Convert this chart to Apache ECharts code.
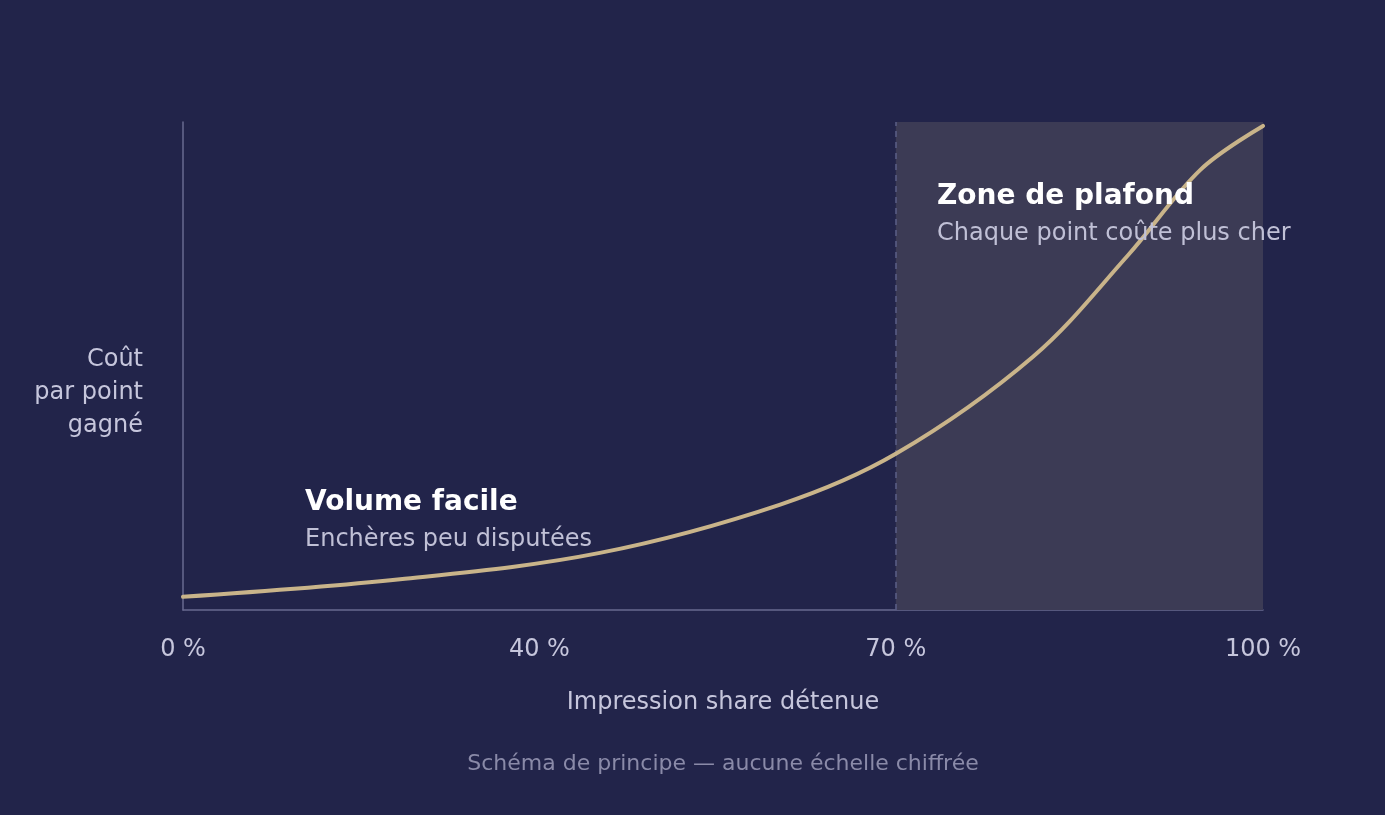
<!DOCTYPE html>
<html>
<head>
<meta charset="utf-8">
<script src="https://cdn.jsdelivr.net/npm/echarts@6/dist/echarts.min.js"></script>
<style>
  html, body { margin: 0; padding: 0; background: #22244a; }
  #main { width: 1385px; height: 815px; }
</style>
</head>
<body>
<div id="main"></div>
<script>
// position along the axis (0-100 of width) and schematic cost (0-100 of height)
var curveX = [0, 20.1, 38.6, 55.3, 66.0, 78.7, 87.5, 94.2, 100];
var curveY = [2.7, 6.3, 11.7, 21.6, 32.0, 51.9, 72.7, 90.2, 99.2];
var tickPos = [0, 33, 66, 100];
var tickLabels = ['0 %', '40 %', '70 %', '100 %'];
var zoneStart = 66;
var zoneEnd = 100;

var font = 'DejaVu Sans';
var myChart = echarts.init(document.getElementById('main'));

var points = curveX.map(function (x, i) { return [x, curveY[i]]; });

var option = {
    backgroundColor: '#22244a',
    animation: false,
    textStyle: { fontFamily: font },
    grid: { left: 183, right: 122, top: 122, bottom: 205 },
    xAxis: {
        type: 'value',
        min: 0,
        max: 100,
        name: 'Impression share détenue',
        nameLocation: 'middle',
        nameGap: 81,
        nameTextStyle: { color: '#c6c6dc', fontSize: 24, fontFamily: font },
        axisLine: { show: true, lineStyle: { color: '#686a90', width: 1.5 } },
        axisTick: { show: false },
        splitLine: { show: false },
        axisLabel: {
            customValues: tickPos,
            margin: 28,
            color: '#c6c6dc',
            fontSize: 24,
            fontFamily: font,
            formatter: function (v) {
                var i = tickPos.indexOf(v);
                return i >= 0 ? tickLabels[i] : '';
            }
        }
    },
    yAxis: {
        type: 'value',
        min: 0,
        max: 100,
        axisLine: { show: true, lineStyle: { color: '#686a90', width: 1.5 } },
        axisTick: { show: false },
        axisLabel: { show: false },
        splitLine: { show: false }
    },
    series: [{
        type: 'line',
        data: points,
        smooth: 0.35,
        showSymbol: false,
        lineStyle: { color: '#c9b48a', width: 4, cap: 'round' },
        z: 5,
        markArea: {
            silent: true,
            itemStyle: { color: '#3c3b55' },
            data: [[{ xAxis: zoneStart }, { xAxis: zoneEnd }]]
        },
        markLine: {
            silent: true,
            symbol: 'none',
            label: { show: false },
            lineStyle: { color: '#5b5f88', type: [6, 5], width: 1.5 },
            data: [{ xAxis: zoneStart }]
        }
    }],
    graphic: [
        {
            type: 'text', x: 143, y: 343.5, z: 10,
            style: {
                text: 'Coût\npar point\ngagné', align: 'right', verticalAlign: 'top',
                lineHeight: 33, fill: '#c6c6dc', fontSize: 24, fontFamily: font
            }
        },
        {
            type: 'text', x: 305, y: 503, z: 10,
            style: { text: 'Volume facile', verticalAlign: 'middle', fill: '#ffffff', fontSize: 28, fontWeight: 'bold', fontFamily: font }
        },
        {
            type: 'text', x: 305, y: 540, z: 10,
            style: { text: 'Enchères peu disputées', verticalAlign: 'middle', fill: '#c0c0d6', fontSize: 24, fontFamily: font }
        },
        {
            type: 'text', x: 937, y: 197, z: 10,
            style: { text: 'Zone de plafond', verticalAlign: 'middle', fill: '#ffffff', fontSize: 28, fontWeight: 'bold', fontFamily: font }
        },
        {
            type: 'text', x: 937, y: 234, z: 10,
            style: { text: 'Chaque point coûte plus cher', verticalAlign: 'middle', fill: '#c0c0d6', fontSize: 24, fontFamily: font }
        },
        {
            type: 'text', x: 723, y: 764, z: 10,
            style: { text: 'Schéma de principe — aucune échelle chiffrée', align: 'center', verticalAlign: 'middle', fill: '#8a8aa8', fontSize: 22, fontFamily: font }
        }
    ]
};
myChart.setOption(option);
</script>
</body>
</html>
